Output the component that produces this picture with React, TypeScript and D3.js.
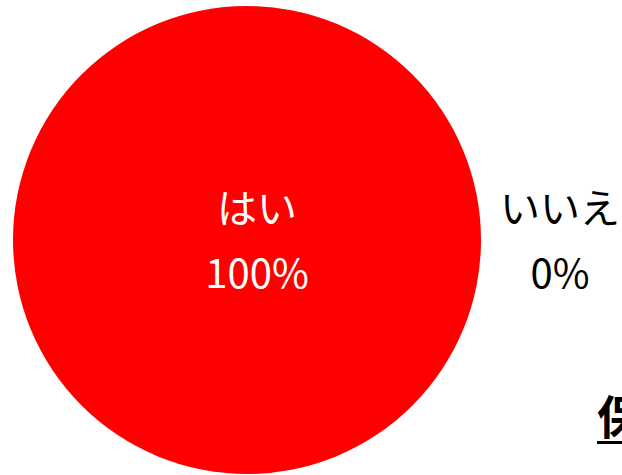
import * as d3 from "d3"
import { useEffect, useRef } from "react"

// Survey answers
const categories = ["はい", "いいえ"]
const values = [100, 0]
const colors = ["#ff0000", "#ffffff"]
const titleText = "保"

const W = 622
const H = 475

const PieChart: React.FC = () => {
  const svgRef = useRef<SVGSVGElement | null>(null)

  useEffect(() => {
    if (!svgRef.current) return
    document.body.style.margin = "0"

    const svg = d3.select(svgRef.current)
    svg.selectAll("*").remove()

    const cx = 247
    const cy = 240
    const radius = 234

    const data = categories.map((name, i) => ({ name, value: values[i] }))
    const total = d3.sum(values)

    const pie = d3
      .pie<{ name: string; value: number }>()
      .value((d) => d.value)
      .sort(null)

    const arc = d3
      .arc<d3.PieArcDatum<{ name: string; value: number }>>()
      .innerRadius(0)
      .outerRadius(radius)

    const chart = svg.append("g").attr("transform", `translate(${cx},${cy})`)

    chart
      .selectAll(".slice")
      .data(pie(data))
      .enter()
      .append("path")
      .attr("class", "slice")
      .attr("d", arc)
      .attr("fill", (_, i) => colors[i])

    const fmt = (v: number) => `${Math.round((v / total) * 100)}%`
    const font = "'Noto Sans CJK JP', 'Noto Sans', sans-serif"

    // Labels: big slice inside, empty slice outside on the right
    const labelPos = [
      { x: 10, y: 0, fill: "#ffffff" },
      { x: 313, y: 0, fill: "#000000" },
    ]

    const labels = chart
      .selectAll(".label")
      .data(pie(data))
      .enter()
      .append("g")
      .attr("class", "label")
      .attr("transform", (_, i) => `translate(${labelPos[i].x},${labelPos[i].y})`)
      .style("font-family", font)
      .style("font-size", "40px")
      .attr("text-anchor", "middle")
      .attr("fill", (_, i) => labelPos[i].fill)

    labels
      .append("text")
      .attr("y", -17)
      .text((d) => d.data.name)

    labels
      .append("text")
      .attr("y", 48)
      .text((d) => fmt(d.data.value))

    // Title, mostly off-canvas, underlined
    svg
      .append("text")
      .attr("x", 597)
      .attr("y", 434)
      .style("font-family", font)
      .style("font-size", "46px")
      .style("font-weight", "700")
      .attr("fill", "#000")
      .text(titleText)

    svg
      .append("rect")
      .attr("x", 597)
      .attr("y", 441)
      .attr("width", W - 597)
      .attr("height", 3)
      .attr("fill", "#000")
  }, [])

  return <svg ref={svgRef} width={W} height={H} style={{ display: "block" }} />
}

export default function App() {
  return <PieChart />
}
